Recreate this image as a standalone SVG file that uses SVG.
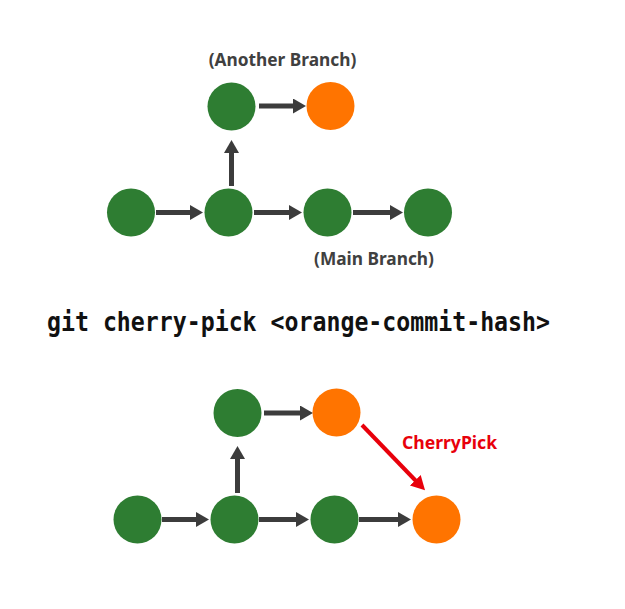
<svg xmlns="http://www.w3.org/2000/svg" width="625" height="609" viewBox="0 0 625 609">
<style>
.g{fill:#2e7d32}
.o{fill:#ff7400}
.a{stroke:#3c3c3c;stroke-width:5;fill:none;marker-end:url(#ah)}
.r{stroke:#e8000b;stroke-width:4;fill:none;marker-end:url(#rh)}
.lbl{font-family:"Noto Sans","Open Sans",sans-serif;font-weight:bold;font-size:17.3px;fill:#404040}
.cmd{font-family:"DejaVu Sans Mono","Liberation Mono",monospace;font-weight:bold;font-size:26px;fill:#111}
.red{font-family:"Noto Sans","Open Sans",sans-serif;font-weight:bold;font-size:17.6px;fill:#e8000b}
</style>
<defs>
<marker id="ah" markerUnits="userSpaceOnUse" markerWidth="14" markerHeight="16" refX="1" refY="7.5" orient="auto">
<path d="M0,0 L13,7.5 L0,15 z" fill="#3c3c3c"/>
</marker>
<marker id="rh" markerUnits="userSpaceOnUse" markerWidth="16" markerHeight="16" refX="1" refY="7.5" orient="auto">
<path d="M0,0 L14,7.5 L0,15 z" fill="#e8000b"/>
</marker>
</defs>
<rect width="625" height="609" fill="#fff"/>
<g id="connectors">
<line class="a" x1="156" y1="212.5" x2="191" y2="212.5"/>
<line class="a" x1="254" y1="212.5" x2="290" y2="212.5"/>
<line class="a" x1="353" y1="212.5" x2="391" y2="212.5"/>
<line class="a" x1="231.5" y1="186" x2="231.5" y2="152"/>
<line class="a" x1="259" y1="106" x2="294" y2="106"/>
<line class="a" x1="162" y1="519.5" x2="197" y2="519.5"/>
<line class="a" x1="259" y1="519.5" x2="297" y2="519.5"/>
<line class="a" x1="359" y1="519.5" x2="399" y2="519.5"/>
<line class="a" x1="237.5" y1="493" x2="237.5" y2="458"/>
<line class="a" x1="264" y1="413" x2="301" y2="413"/>
<line class="r" x1="362" y1="425" x2="416" y2="481"/>
</g>
<g id="label-another"><text class="lbl" x="282.5" y="66" text-anchor="middle">(Another Branch)</text></g>
<g id="label-main"><text class="lbl" x="374" y="264.5" text-anchor="middle">(Main Branch)</text></g>
<g id="cmd"><text class="cmd" x="47" y="330.5" textLength="503" lengthAdjust="spacingAndGlyphs">git cherry-pick &lt;orange-commit-hash&gt;</text></g>
<g id="label-cherry"><text class="red" x="449.5" y="448.5" text-anchor="middle">CherryPick</text></g>
<g id="t-a1"><circle class="g" cx="231.5" cy="106.5" r="24"/></g>
<g id="t-a2"><circle class="o" cx="330.5" cy="106" r="24"/></g>
<g id="t-m1"><circle class="g" cx="131" cy="212.5" r="24"/></g>
<g id="t-m2"><circle class="g" cx="228.5" cy="212.5" r="24"/></g>
<g id="t-m3"><circle class="g" cx="327.5" cy="212.5" r="24"/></g>
<g id="t-m4"><circle class="g" cx="428" cy="212.5" r="24"/></g>
<g id="b-a1"><circle class="g" cx="237.5" cy="413" r="24"/></g>
<g id="b-a2"><circle class="o" cx="336.5" cy="412.5" r="24"/></g>
<g id="b-m1"><circle class="g" cx="137.5" cy="519.5" r="24"/></g>
<g id="b-m2"><circle class="g" cx="234.5" cy="519.5" r="24"/></g>
<g id="b-m3"><circle class="g" cx="334.5" cy="519.5" r="24"/></g>
<g id="b-m4"><circle class="o" cx="436.5" cy="519.5" r="24"/></g>
</svg>
